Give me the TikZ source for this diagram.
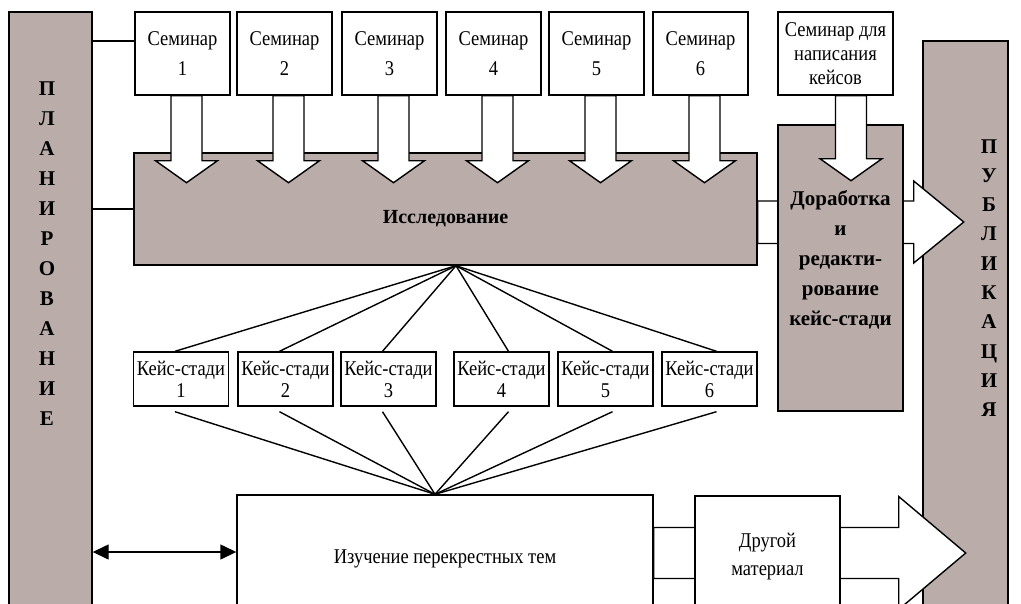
\documentclass[tikz,border=0pt]{standalone}
\usepackage{fontspec}
\setmainfont{Liberation Serif}[FakeStretch=0.88]
\newfontfamily\headfont{Liberation Serif}
\usetikzlibrary{arrows.meta,calc}
\definecolor{barfill}{RGB}{186,172,168}

\begin{document}
\begin{tikzpicture}[x=1pt,y=-1pt,line width=1.4pt,
  box/.style={shape=rectangle,draw=black,fill=white,inner sep=0pt,align=center,font=\fontsize{21}{30}\selectfont},
  darkbox/.style={shape=rectangle,draw=black,fill=barfill,inner sep=0pt,align=center,font=\headfont\bfseries\fontsize{20}{30}\selectfont},
  bigarrow/.style={draw=black,fill=white,line join=miter}]
\useasboundingbox (0,0) rectangle (1021,603);
\clip (0,0) rectangle (1021,603);

% side bars
\node[darkbox,minimum width=83pt,minimum height=628pt] (plan) at (50.5,326) {};
\node[darkbox,minimum width=85pt,minimum height=599pt] (pub) at (965.5,340.5) {};
\node[align=center,font=\headfont\bfseries\fontsize{21}{30}\selectfont] (plantxt) at (47,254) {П\\Л\\А\\Н\\И\\Р\\О\\В\\А\\Н\\И\\Е};
\node[align=center,font=\headfont\bfseries\fontsize{21}{29.3}\selectfont] (pubtxt) at (989,278) {П\\У\\Б\\Л\\И\\К\\А\\Ц\\И\\Я};

% seminars
\node[box,minimum width=95pt,minimum height=83pt] (sem1) at (182.5,53.5) {Семинар\\1};
\node[box,minimum width=95pt,minimum height=83pt] (sem2) at (284.5,53.5) {Семинар\\2};
\node[box,minimum width=95pt,minimum height=83pt] (sem3) at (389.5,53.5) {Семинар\\3};
\node[box,minimum width=95pt,minimum height=83pt] (sem4) at (493.5,53.5) {Семинар\\4};
\node[box,minimum width=95pt,minimum height=83pt] (sem5) at (596.5,53.5) {Семинар\\5};
\node[box,minimum width=95pt,minimum height=83pt] (sem6) at (700.5,53.5) {Семинар\\6};
\node[box,minimum width=115pt,minimum height=83pt,font=\fontsize{21}{24}\selectfont] (semk) at (835.5,53.5) {Семинар для\\написания\\кейсов};

% research
\node[darkbox,minimum width=623pt,minimum height=112pt,text height=32pt] (res) at (445.5,209) {Исследование};
\draw[bigarrow] ($(res.east)+(0,-8)$) -- ++(156,0) -- ++(0,-20) -- ++(50,41) -- ++(-50,41) -- ++(0,-19.5) -- ++(-156,0) -- cycle;
\node[darkbox,minimum width=125pt,minimum height=286pt,text depth=20pt,font=\headfont\bfseries\fontsize{21}{30}\selectfont] (dor) at (840.5,268) {Доработка\\и\\редакти-\\рование\\кейс-стади};

\foreach \s in {1,...,6}
  \draw[bigarrow] ($(sem\s.south)+(-11.5,0)$) -- ++(0,65) -- ++(-15.5,0) -- ++(31,22) -- ++(31,-22) -- ++(-15.5,0) -- ++(0,-65) -- cycle;
\draw[bigarrow] (semk.south) -- ++(0,63) -- ++(-15.5,0) -- ++(31,22) -- ++(31,-22) -- ++(-15.5,0) -- ++(0,-63) -- cycle;

% case studies
\node[box,minimum width=95pt,minimum height=54pt,font=\fontsize{21}{22}\selectfont] (ks1) at (181,379) {Кейс-стади\\1};
\node[box,minimum width=95pt,minimum height=54pt,font=\fontsize{21}{22}\selectfont] (ks2) at (285.5,379) {Кейс-стади\\2};
\node[box,minimum width=95pt,minimum height=54pt,font=\fontsize{21}{22}\selectfont] (ks3) at (388.5,379) {Кейс-стади\\3};
\node[box,minimum width=95pt,minimum height=54pt,font=\fontsize{21}{22}\selectfont] (ks4) at (501.5,379) {Кейс-стади\\4};
\node[box,minimum width=95pt,minimum height=54pt,font=\fontsize{21}{22}\selectfont] (ks5) at (605.5,379) {Кейс-стади\\5};
\node[box,minimum width=95pt,minimum height=54pt,font=\fontsize{21}{22}\selectfont] (ks6) at (709.5,379) {Кейс-стади\\6};

% cross topics
\node[box,minimum width=416pt,minimum height=128pt] (izu) at (445,559) {Изучение перекрестных тем};
\draw[bigarrow] ($(izu.east)+(0,-31.5)$) -- ++(245,0) -- ++(0,-31) -- ++(67,56.5) -- ++(-67,56.5) -- ++(0,-31) -- ++(-245,0) -- cycle;
\node[box,minimum width=145pt,minimum height=121pt,font=\fontsize{21}{28}\selectfont] (drug) at (767.5,556.5) {Другой\\материал};

% links
\coordinate (semin) at ($(sem1.north west)!0.35!(sem1.south west)$);
\draw (plan.east |- semin) -- (semin);
\draw (plan.east |- res.west) -- (res.west);
\coordinate (resfoc) at ($(res.south)+(10.5,0)$);
\coordinate (izufoc) at ($(izu.north)+(-10,0)$);
\foreach \k/\d in {1/-6,2/-6,3/-6,4/7,5/7,6/7} {
  \draw (resfoc) -- ($(ks\k.north)+(\d,0)$);
  \draw ($(ks\k.south)+(\d,5)$) -- (izufoc);
}
\coordinate (izuin) at ($(izu.west)+(0,-7)$);
\draw[{Triangle[length=16pt,width=15pt]}-{Triangle[length=16pt,width=15pt]}] (plan.east |- izuin) -- (izuin);
\end{tikzpicture}
\end{document}
